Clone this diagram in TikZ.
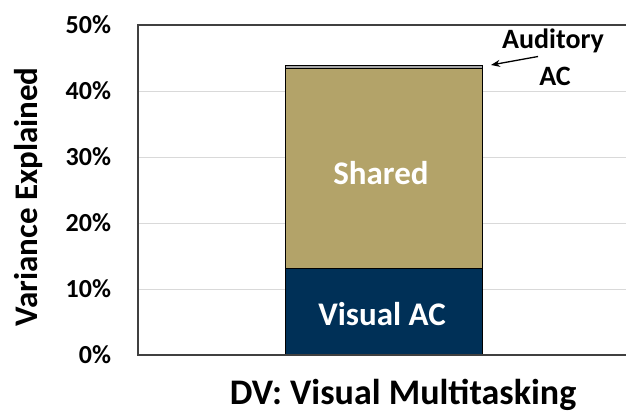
\documentclass[tikz,border=0pt]{standalone}
\usepackage{fontspec}
\setmainfont{Carlito}
\usetikzlibrary{arrows.meta}
\definecolor{gtnavy}{HTML}{003057}
\definecolor{gtgold}{HTML}{B3A369}
\definecolor{gridgray}{HTML}{D9D9D9}
\definecolor{framegray}{HTML}{404040}
\begin{document}
\begin{tikzpicture}[x=1pt,y=-1pt,
  every node/.style={inner sep=0pt, outer sep=0pt},
  ticklabel/.style={anchor=base east, font=\fontsize{26}{26}\selectfont\bfseries},
  seglabel/.style={text=white, font=\fontsize{33}{33}\selectfont\bfseries},
  segbox/.style={draw=black, line width=1pt},
  gridline/.style={draw=gridgray, line width=1pt},
  frameline/.style={draw=framegray, line width=1.6pt},
  pointer/.style={-{Stealth[length=9pt,width=7pt]}, line width=1.3pt, black}]
\useasboundingbox (0,0) rectangle (626,413);
% grid
\foreach \y in {91,157,223,289} \draw[gridline] (138,\y) -- (626,\y);
% bars
\draw[segbox, fill=gtnavy] (285,268) rectangle (482,355);
\draw[segbox, fill=gtgold] (285,68) rectangle (482,268);
\draw[segbox, fill=gray!70] (285,65.5) rectangle (482,68);
\node[seglabel] (shared) at (381,173) {Shared};
\node[seglabel] (visual) at (382,314) {Visual AC};
% frame
\draw[frameline] (626,25) -- (138,25) -- (138,355) -- (626,355);
% tick labels
\foreach \v/\y in {0/355,10/289,20/223,30/157,40/91,50/25}
  \node[ticklabel] (t\v) at (111,\y+8.5) {\v\%};
% axis titles
\node[rotate=90, font=\fontsize{33}{33}\selectfont\bfseries] (ytitle) at (29,197) {Variance Explained};
\node[anchor=base, font=\fontsize{36}{36}\selectfont\bfseries] (xtitle) at (403,404) {DV: Visual Multitasking};
% auditory label
\node[anchor=base, font=\fontsize{28}{28}\selectfont\bfseries] (aud1) at (553,48) {Auditory};
\node[anchor=base, font=\fontsize{28}{28}\selectfont\bfseries] (aud2) at (555,85) {AC};
\coordinate (arrstart) at (538,56.5);
\coordinate (arrtip) at (491,65);
\draw[pointer] (arrstart) -- (arrtip);
\end{tikzpicture}
\end{document}
